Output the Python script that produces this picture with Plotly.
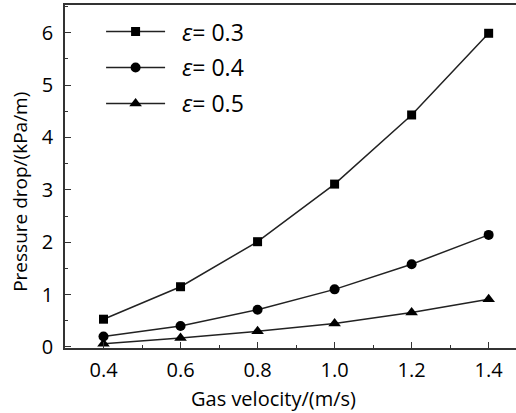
import plotly.graph_objects as go

velocity = [0.4, 0.6, 0.8, 1.0, 1.2, 1.4]
dp_eps03 = [0.53, 1.15, 2.01, 3.11, 4.43, 5.99]
dp_eps04 = [0.20, 0.40, 0.71, 1.10, 1.58, 2.14]
dp_eps05 = [0.06, 0.17, 0.30, 0.45, 0.66, 0.91]
series_names = ["<i>ε</i>= 0.3", "<i>ε</i>= 0.4", "<i>ε</i>= 0.5"]
x_ticks = [0.4, 0.6, 0.8, 1.0, 1.2, 1.4]
x_ticklabels = ["0.4", "0.6", "0.8", "1.0", "1.2", "1.4"]
y_ticks = [0, 1, 2, 3, 4, 5, 6]
x_title = "Gas velocity/(m/s)"
y_title = "Pressure drop/(kPa/m)"

FONT = "Open Sans, sans-serif"
LINE = "#222222"
AX = "#333333"

fig = go.Figure()
for i, (vals, sym, sz) in enumerate([(dp_eps03, "square", 9),
                                     (dp_eps04, "circle", 10),
                                     (dp_eps05, "triangle-up", 11)]):
    fig.add_trace(go.Scatter(
        x=velocity, y=vals, mode="lines+markers",
        name="\u00a0\u00a0" + series_names[i],
        legendgroup=f"g{i}",
        line=dict(color=LINE, width=1.5),
        marker=dict(symbol=sym, size=sz, color="black"),
    ))

fig.update_layout(
    width=516, height=413,
    margin=dict(l=65, r=0, t=5, b=65),
    paper_bgcolor="white", plot_bgcolor="white",
    font=dict(family=FONT, color="black"),
    showlegend=True,
    legend=dict(x=0.08, y=0.985, xanchor="left", yanchor="top",
                bgcolor="rgba(0,0,0,0)", font=dict(size=23, family=FONT),
                itemwidth=59, tracegroupgap=3),
    xaxis=dict(
        range=[0.3, 1.471], tickvals=x_ticks, ticktext=x_ticklabels,
        showline=True, linecolor=AX, linewidth=1.5, mirror=True,
        ticks="inside", ticklen=6, tickcolor=AX, tickwidth=1.2,
        minor=dict(ticks="inside", ticklen=3, dtick=0.1, tickcolor=AX),
        showgrid=False, zeroline=False,
        tickfont=dict(size=20), ticklabelstandoff=3,
    ),
    yaxis=dict(
        range=[-0.02, 6.53], tickvals=y_ticks,
        showline=True, linecolor=AX, linewidth=1.5, mirror=False,
        ticks="inside", ticklen=6, tickcolor=AX, tickwidth=1.2,
        minor=dict(ticks="inside", ticklen=3, dtick=0.5, tickcolor=AX),
        showgrid=False, zeroline=False,
        tickfont=dict(size=20), ticklabelstandoff=6,
    ),
    annotations=[
        dict(text=x_title, xref="paper", yref="paper", x=0.463, y=-0.148,
             xanchor="center", yanchor="middle", showarrow=False,
             font=dict(size=20, family=FONT)),
        dict(text=y_title, xref="paper", yref="paper", x=-0.1,
             y=0.455, xanchor="center", yanchor="middle", showarrow=False,
             textangle=-90, font=dict(size=19, family=FONT)),
    ],
)

fig.write_html("out.html")
